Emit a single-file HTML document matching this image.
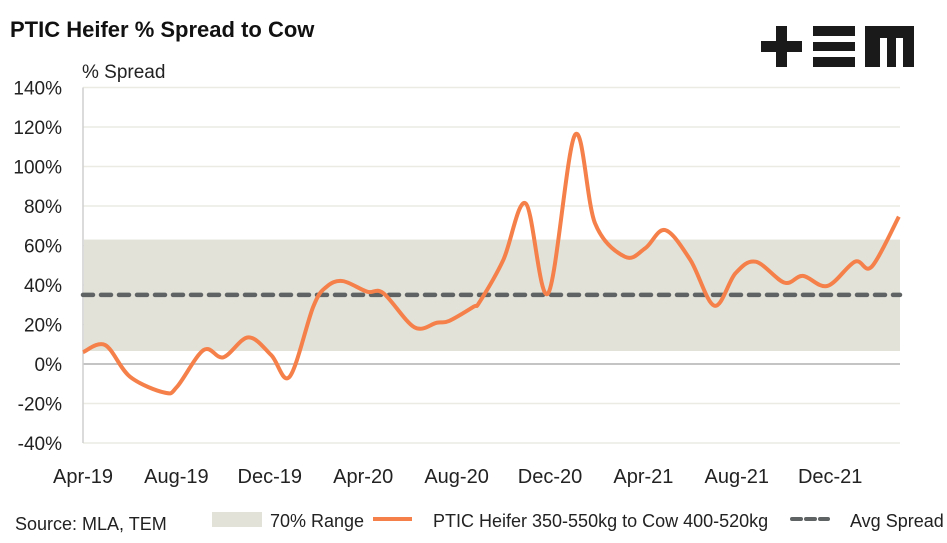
<!DOCTYPE html>
<html><head><meta charset="utf-8"><style>
body{margin:0;background:#fff;}
svg{display:block;font-family:"Liberation Sans Narrow","Liberation Sans",sans-serif;}
</style></head><body>
<svg id="c" width="947" height="543" viewBox="0 0 947 543">
<text x="10" y="37" font-family="Liberation Sans, sans-serif" font-weight="bold" font-size="22" fill="#111">PTIC Heifer % Spread to Cow</text>
<g fill="#1a1a1a">
<rect x="761" y="41" width="41" height="11"/><rect x="776" y="26" width="11" height="41"/>
<rect x="813" y="26" width="42" height="10"/><rect x="813" y="42" width="42" height="9"/><rect x="813" y="57" width="42" height="10"/>
<path d="M865 26H914V67H903V38H896V67H887V38H880V67H865Z"/>
</g>
<text x="82" y="78" font-size="19" fill="#222">% Spread</text>
<g id="grid"></g><g id="band"></g><g id="series"></g><g id="ticks"></g>
<g font-size="18" fill="#222">
<text x="15" y="530">Source: MLA, TEM</text>
<rect x="212" y="512" width="50" height="15" fill="#e2e2d8"/>
<text x="270" y="527">70% Range</text>
<line x1="373" y1="519" x2="412" y2="519" stroke="#f5804a" stroke-width="4"/>
<text x="433" y="527">PTIC Heifer 350-550kg to Cow 400-520kg</text>
<line x1="792" y1="519" x2="828" y2="519" stroke="#5f6363" stroke-width="4" stroke-dasharray="9,5" stroke-linecap="round"/>
<text x="850" y="527">Avg Spread</text>
</g>
</svg>
<script>
const months=[0,0.95,2.01,3.50,4.03,5.17,6.01,7.08,8.06,8.85,9.86,10.42,11.12,12.17,12.87,14.19,15.15,15.68,16.73,16.99,18.0,18.96,19.92,21.07,21.93,23.21,24.08,24.93,26.01,27.04,27.94,28.81,30.04,30.83,31.88,33.06,33.78,34.94];
const spread=[6,9.6,-6.4,-14.5,-11.5,7.1,3.4,13.5,4.5,-6.4,29,39,42,36.6,35.8,18.6,20.9,21.8,29,31.5,52.7,81.3,35.8,116,71.2,54.3,58.6,67.8,52.7,29.5,45.9,51.8,41.2,44.6,39.5,51.8,49.3,74.6];
const yTicks=[-40,-20,0,20,40,60,80,100,120,140];
const xLabels=["Apr-19","Aug-19","Dec-19","Apr-20","Aug-20","Dec-20","Apr-21","Aug-21","Dec-21"];
const xLabelMonths=[0,4,8,12,16,20,24,28,32];
const rangeLow=6.6, rangeHigh=63, avgSpread=35;
const NS="http://www.w3.org/2000/svg";
const X0=83,X1=900;
const xs=m=>X0+m*23.35;
const ys=v=>364-v*1.975;
function mk(t,a,p){const e=document.createElementNS(NS,t);for(const k in a)e.setAttribute(k,a[k]);p.appendChild(e);return e;}
const grid=document.getElementById('grid'),ticks=document.getElementById('ticks');
yTicks.forEach(v=>{
 const l=mk('line',{x1:X0,x2:X1,y1:ys(v),y2:ys(v),stroke:v===0?'#c4c4c4':'#ebebe3','stroke-width':v===0?2:1.5},grid);
 
 
 const t=mk('text',{x:62,y:ys(v)+7,'text-anchor':'end','font-size':19,fill:'#222'},ticks);
 t.textContent=v+'%';
 
 
});
const ax=mk('line',{x1:X0,x2:X0,y1:ys(140),y2:ys(-40),stroke:'#cfcfcf','stroke-width':1.5},grid);


xLabels.forEach((s,i)=>{
 const t=mk('text',{x:xs(xLabelMonths[i]),y:483,'text-anchor':'middle','font-size':20,fill:'#222'},ticks);
 t.textContent=s;
 
 
});
const band=document.getElementById('band');
const r=mk('rect',{x:X0+1,y:ys(rangeHigh),width:X1-X0-1,height:ys(rangeLow)-ys(rangeHigh),fill:'#e2e2d8'},band);


const ser=document.getElementById('series');
const av=mk('line',{x1:X0,x2:X1,y1:ys(avgSpread),y2:ys(avgSpread),stroke:'#5f6363','stroke-width':4.5,'stroke-dasharray':'10,8','stroke-linecap':'round'},ser);


const P=months.map((m,i)=>[xs(m),ys(spread[i])]);
let d='M'+P[0][0]+' '+P[0][1];
for(let i=0;i<P.length-1;i++){
 const p0=P[i-1]||P[i],p1=P[i],p2=P[i+1],p3=P[i+2]||P[i+1];
 const c1=[p1[0]+(p2[0]-p0[0])/6,p1[1]+(p2[1]-p0[1])/6],c2=[p2[0]-(p3[0]-p1[0])/6,p2[1]-(p3[1]-p1[1])/6];
 d+=`C${c1[0]} ${c1[1]} ${c2[0]} ${c2[1]} ${p2[0]} ${p2[1]}`;
}
const ln=mk('path',{d:d,fill:'none',stroke:'#f5804a','stroke-width':4,'stroke-linejoin':'round'},ser);


</script>
</body></html>
